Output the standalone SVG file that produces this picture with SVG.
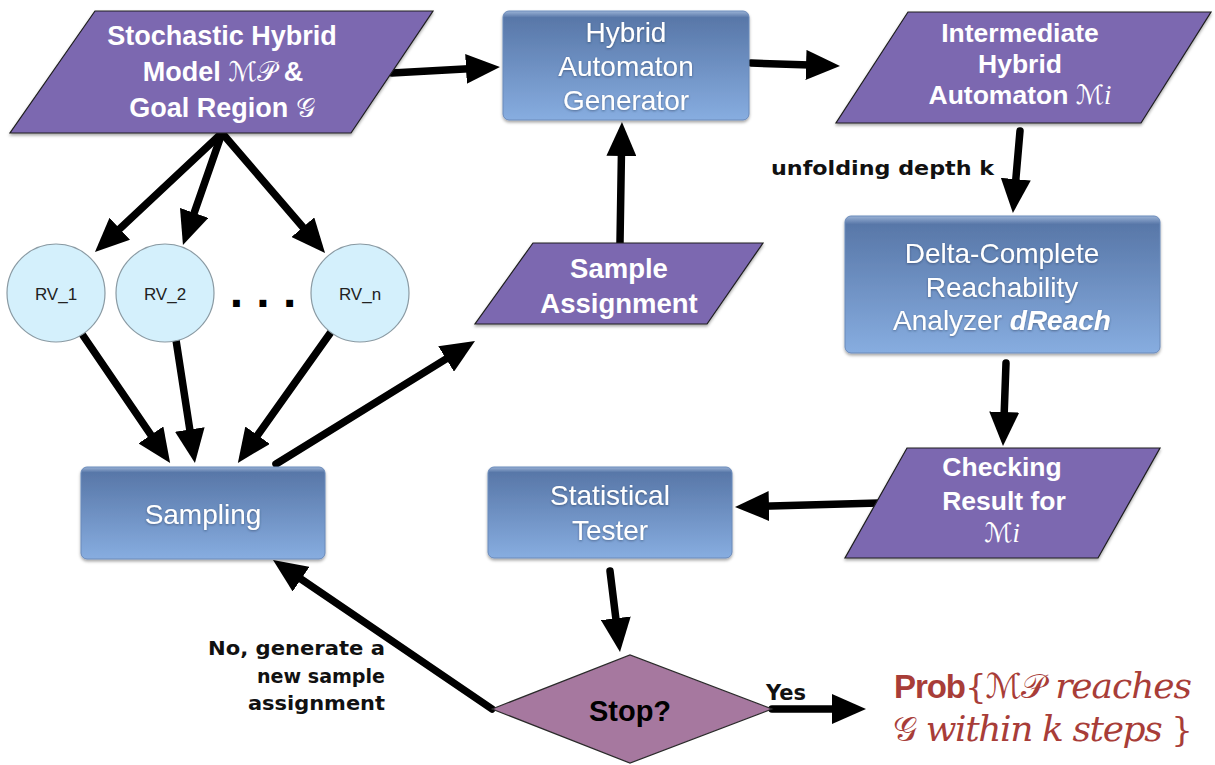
<svg xmlns="http://www.w3.org/2000/svg" width="1215" height="765" viewBox="0 0 1215 765">
  <defs>
    <linearGradient id="boxFill" x1="0" y1="0" x2="0" y2="1">
      <stop offset="0" stop-color="#9bb3d6"/>
      <stop offset="0.06" stop-color="#5877a8"/>
      <stop offset="1" stop-color="#87ade0"/>
    </linearGradient>
    <filter id="shadow" x="-10%" y="-10%" width="120%" height="130%">
      <feDropShadow dx="0" dy="2" stdDeviation="1.5" flood-color="#000" flood-opacity="0.35"/>
    </filter>
    <filter id="txtShadow" x="-5%" y="-20%" width="110%" height="150%">
      <feDropShadow dx="0" dy="1" stdDeviation="0.8" flood-color="#1c2e4a" flood-opacity="0.5"/>
    </filter>
    <marker id="head" viewBox="0 0 34 30" markerUnits="userSpaceOnUse" markerWidth="34" markerHeight="30" refX="12" refY="15" orient="auto">
      <path d="M0,0 L34,15 L0,30 z" fill="#000"/>
    </marker>
    <style>
      .para { fill: #7c68b0; stroke: #1e1e1e; stroke-width: 1.2; filter: url(#shadow); }
      .box { fill: url(#boxFill); stroke: #6a8aba; stroke-width: 1; filter: url(#shadow); }
      .rv { fill: #d4f0fc; stroke: #8a9aa3; stroke-width: 1.2; }
      .stop { fill: #a6789f; stroke: #2a2a2a; stroke-width: 1.2; }
      .pt { font-family: "Liberation Sans", Arial, sans-serif; font-weight: bold; font-size: 26.5px; fill: #fff; text-anchor: middle; }
      .bt { font-family: "Liberation Sans", Arial, sans-serif; font-size: 28px; fill: #fff; text-anchor: middle; filter: url(#txtShadow); }
      .math { font-family: "DejaVu Serif", "DejaVu Sans", "Liberation Serif", serif; font-weight: normal; font-style: normal; }
      .it { font-family: "Liberation Serif", serif; font-style: italic; font-weight: normal; }
      .rvt { font-family: "Liberation Sans", Arial, sans-serif; font-size: 17px; fill: #222; text-anchor: middle; }
      .lbl { font-family: "DejaVu Sans", "Noto Sans", sans-serif; font-weight: bold; font-size: 20px; fill: #111; }
      .wire { fill: none; stroke: #000; stroke-width: 7.5; stroke-linecap: round; marker-end: url(#head); }
      .res { fill: #a83d38; }
      .rit { font-family: "DejaVu Serif", "Liberation Serif", serif; font-style: italic; }
    </style>
  </defs>

  <!-- connectors -->
  <g id="connectors">
    <line class="wire" x1="392" y1="73" x2="478" y2="68.2"/>
    <line class="wire" x1="751" y1="63" x2="818" y2="65.3"/>
    <line class="wire" x1="1020" y1="131" x2="1014.8" y2="191.1"/>
    <line class="wire" x1="1006" y1="363" x2="1003.8" y2="424"/>
    <line class="wire" x1="879" y1="503" x2="757" y2="506.4"/>
    <line class="wire" x1="610" y1="571" x2="617.3" y2="630.2"/>
    <line class="wire" x1="492" y1="709" x2="291.2" y2="572.4"/>
    <line class="wire" x1="772" y1="709" x2="844" y2="709"/>
    <line class="wire" x1="276" y1="464" x2="456.3" y2="352.6"/>
    <line class="wire" x1="620" y1="243" x2="621.6" y2="144"/>
    <line class="wire" x1="222" y1="133" x2="111" y2="236.9"/>
    <line class="wire" x1="222" y1="133" x2="190.2" y2="224.2"/>
    <line class="wire" x1="222" y1="133" x2="310.7" y2="236.3"/>
    <line class="wire" x1="82" y1="334" x2="157.7" y2="444.8"/>
    <line class="wire" x1="176" y1="340" x2="191.6" y2="441.3"/>
    <line class="wire" x1="331" y1="332" x2="250.6" y2="445"/>
  </g>

  <!-- stochastic hybrid model -->
  <g id="model">
    <polygon class="para" points="95,11 433,11 351,133 10,133"/>
    <text class="pt" x="222" y="45" style="font-size:27px">Stochastic Hybrid</text>
    <text class="pt" x="223" y="81" style="font-size:27px">Model <tspan class="math">ℳ𝒫</tspan> &amp;</text>
    <text class="pt" x="222" y="117" style="font-size:27px">Goal Region <tspan class="math">𝒢</tspan></text>
  </g>

  <!-- hybrid automaton generator -->
  <g id="generator">
    <rect class="box" x="503" y="11" width="246" height="109" rx="6"/>
    <text class="bt" x="626" y="42">Hybrid</text>
    <text class="bt" x="626" y="76">Automaton</text>
    <text class="bt" x="626" y="110">Generator</text>
  </g>

  <!-- intermediate hybrid automaton -->
  <g id="intermediate">
    <polygon class="para" points="908,12 1211,12 1141,123 836,123"/>
    <text class="pt" x="1020" y="42">Intermediate</text>
    <text class="pt" x="1020" y="73">Hybrid</text>
    <text class="pt" x="1020" y="104">Automaton <tspan class="math">ℳ</tspan><tspan class="it">i</tspan></text>
  </g>

  <!-- reachability analyzer -->
  <g id="analyzer">
    <rect class="box" x="845" y="216" width="315" height="137" rx="6"/>
    <text class="bt" x="1002" y="263">Delta-Complete</text>
    <text class="bt" x="1002" y="297">Reachability</text>
    <text class="bt" x="1002" y="330">Analyzer <tspan font-weight="bold" font-style="italic">dReach</tspan></text>
  </g>

  <!-- checking result -->
  <g id="result">
    <polygon class="para" points="907,448 1160,448 1098,558 845,558"/>
    <text class="pt" x="1002" y="476">Checking</text>
    <text class="pt" x="1004" y="510">Result for</text>
    <text class="pt" x="1002" y="542"><tspan class="math">ℳ</tspan><tspan class="it">i</tspan></text>
  </g>

  <!-- statistical tester -->
  <g id="tester">
    <rect class="box" x="488" y="467" width="244" height="91" rx="6"/>
    <text class="bt" x="610" y="505">Statistical</text>
    <text class="bt" x="610" y="540">Tester</text>
  </g>

  <!-- sample assignment -->
  <g id="assignment">
    <polygon class="para" points="533,243 763,243 707,324 475,324"/>
    <text class="pt" x="619" y="278" style="font-size:27.5px">Sample</text>
    <text class="pt" x="619" y="313" style="font-size:27.5px">Assignment</text>
  </g>

  <!-- sampling -->
  <g id="sampling">
    <rect class="box" x="81" y="467" width="244" height="92" rx="6"/>
    <text class="bt" x="203" y="524">Sampling</text>
  </g>

  <!-- random variables -->
  <g id="rv1">
    <circle class="rv" cx="56" cy="293" r="49"/>
    <text class="rvt" x="56" y="300">RV_1</text>
  </g>
  <g id="rv2">
    <circle class="rv" cx="165" cy="293" r="49"/>
    <text class="rvt" x="165" y="300">RV_2</text>
  </g>
  <g id="rvn">
    <circle class="rv" cx="360" cy="293" r="49"/>
    <text class="rvt" x="360" y="300">RV_n</text>
  </g>
  <g id="ellipsis">
    <text x="263" y="307" font-family="Liberation Sans, Arial, sans-serif" font-weight="bold" font-size="48" text-anchor="middle" fill="#000">. . .</text>
  </g>

  <!-- stop decision -->
  <g id="stop">
    <polygon class="stop" points="492,709 630,655 772,709 630,763"/>
    <text x="630" y="721" font-family="Liberation Sans, Arial, sans-serif" font-weight="bold" font-size="29" text-anchor="middle" fill="#000">Stop?</text>
  </g>

  <!-- edge labels -->
  <g id="labels">
    <text class="lbl" x="771" y="175" textLength="223" lengthAdjust="spacingAndGlyphs">unfolding depth k</text>
    <text class="lbl" x="385" y="655" text-anchor="end" textLength="177" lengthAdjust="spacingAndGlyphs">No, generate a</text>
    <text class="lbl" x="385" y="683" text-anchor="end" textLength="128" lengthAdjust="spacingAndGlyphs">new sample</text>
    <text class="lbl" x="385" y="710" text-anchor="end" textLength="137" lengthAdjust="spacingAndGlyphs">assignment</text>
    <text class="lbl" x="766" y="700" style="font-size:21px">Yes</text>
  </g>

  <!-- probability query -->
  <g id="query">
    <text class="res" x="894" y="698" font-size="34" textLength="298" lengthAdjust="spacing"><tspan font-family="Liberation Sans, Arial, sans-serif" font-weight="bold" font-size="33">Prob</tspan><tspan font-family="DejaVu Serif, serif">{</tspan><tspan class="math">ℳ𝒫</tspan><tspan class="rit" font-size="36"> reaches</tspan></text>
    <text class="res" x="893" y="741" font-size="34" textLength="300" lengthAdjust="spacing"><tspan class="math">𝒢</tspan><tspan class="rit" font-size="36"> within k steps </tspan><tspan font-family="DejaVu Serif, serif">}</tspan></text>
  </g>
</svg>
